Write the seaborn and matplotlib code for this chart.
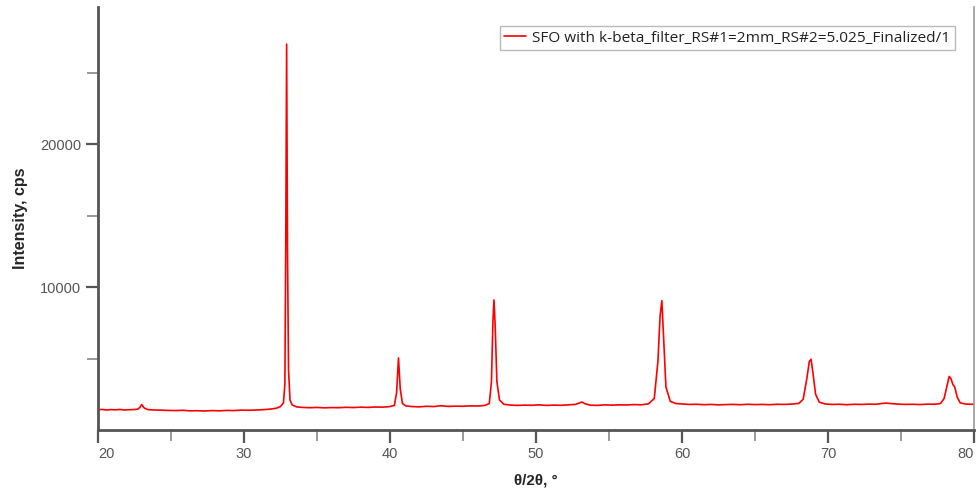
import matplotlib
matplotlib.use("Agg")
import matplotlib.pyplot as plt
import seaborn as sns
import pandas as pd
from matplotlib.ticker import MultipleLocator, FixedLocator

two_theta = [
    20.0, 20.3, 20.6, 20.9, 21.2, 21.5, 21.8, 22.1, 22.4, 22.7, 22.85, 23.0, 23.15, 23.4,
    23.8, 24.3, 24.8, 25.3, 25.8, 26.3, 26.8, 27.3, 27.8, 28.3, 28.8, 29.3, 29.8, 30.3,
    30.8, 31.3, 31.8, 32.2, 32.5, 32.7, 32.8, 32.86, 32.92, 32.98, 33.05, 33.15, 33.3,
    33.6, 34.0, 34.5, 35.0, 35.5, 36.0, 36.5, 37.0, 37.5, 38.0, 38.5, 39.0, 39.5, 40.0,
    40.3, 40.45, 40.58, 40.7, 40.85, 41.1, 41.5, 42.0, 42.5, 43.0, 43.5, 44.0, 44.5, 45.0,
    45.5, 46.0, 46.5, 46.8, 46.95, 47.05, 47.12, 47.2, 47.32, 47.5, 47.8, 48.2, 48.7,
    49.2, 49.7, 50.2, 50.7, 51.2, 51.7, 52.2, 52.7, 53.0, 53.15, 53.35, 53.7, 54.2, 54.7,
    55.2, 55.7, 56.2, 56.7, 57.2, 57.7, 58.1, 58.35, 58.5, 58.62, 58.74, 58.9, 59.2, 59.6,
    60.0, 60.5, 61.0, 61.5, 62.0, 62.5, 63.0, 63.5, 64.0, 64.5, 65.0, 65.5, 66.0, 66.5,
    67.0, 67.5, 68.0, 68.3, 68.55, 68.72, 68.84, 68.98, 69.15, 69.4, 69.8, 70.3, 70.8,
    71.3, 71.8, 72.3, 72.8, 73.3, 73.7, 74.0, 74.3, 74.8, 75.3, 75.8, 76.3, 76.8, 77.3,
    77.7, 77.95, 78.15, 78.3, 78.42, 78.55, 78.68, 78.85, 79.05, 79.4, 79.7, 80.0,
]
intensity = [
    1420, 1440, 1400, 1430, 1410, 1440, 1400, 1420, 1430, 1450, 1560, 1780, 1550, 1430,
    1400, 1390, 1370, 1360, 1380, 1340, 1350, 1330, 1360, 1340, 1370, 1360, 1390, 1380,
    1400, 1420, 1460, 1520, 1640, 1900, 3200, 13000, 27000, 12500, 4200, 2100, 1750,
    1620, 1580, 1560, 1580, 1550, 1570, 1560, 1590, 1570, 1600, 1580, 1610, 1600, 1640,
    1720, 2600, 5050, 2900, 1850, 1680, 1640, 1620, 1660, 1640, 1700, 1650, 1670, 1660,
    1690, 1680, 1720, 1850, 3400, 7600, 9100, 7400, 3400, 2100, 1800, 1750, 1720,
    1740, 1730, 1760, 1720, 1740, 1730, 1760, 1790, 1900, 1960, 1840, 1740, 1720, 1760,
    1740, 1760, 1750, 1780, 1760, 1830, 2200, 4800, 8000, 9050, 6500, 3000, 2000, 1850,
    1820, 1790, 1800, 1770, 1790, 1760, 1780, 1790, 1770, 1800, 1780, 1790, 1770, 1800,
    1790, 1810, 1860, 2150, 3600, 4800, 4950, 3900, 2500, 1950, 1820, 1790, 1800,
    1770, 1800, 1790, 1810, 1800, 1860, 1880, 1850, 1810, 1790, 1800, 1780, 1810, 1800,
    1850, 2200, 3100, 3750, 3600, 3200, 3000, 2300, 1900, 1820, 1800, 1810,
]

legend_label = "SFO with k-beta_filter_RS#1=2mm_RS#2=5.025_Finalized/1"
x_ticks = [20, 30, 40, 50, 60, 70, 80]
y_ticks = [10000, 20000]
y_minor_ticks = [5000, 15000, 25000]

df = pd.DataFrame({"two_theta": two_theta, "intensity": intensity})

sns.set_style("white")
plt.rcParams["font.family"] = ["Liberation Sans", "DejaVu Sans"]

fig = plt.figure(figsize=(9.78, 4.92), dpi=100)
ax = fig.add_axes([98 / 978, (492 - 430) / 492, (974 - 98) / 978, (430 - 7) / 492])

sns.lineplot(data=df, x="two_theta", y="intensity", color="#ff0000", linewidth=1.2,
             ax=ax, label=legend_label)

ax.set_xlim(20, 80)
ax.set_ylim(0, 29600)
ax.set_xticks(x_ticks)
ax.set_yticks(y_ticks)
ax.xaxis.set_minor_locator(MultipleLocator(5))
ax.yaxis.set_minor_locator(FixedLocator(y_minor_ticks))
ax.set_yticklabels([str(v) for v in y_ticks])
ax.set_xticklabels([str(v) for v in x_ticks])

spine_col = "#555555"
ax.spines["top"].set_visible(False)
ax.spines["left"].set_color(spine_col)
ax.spines["left"].set_linewidth(2.0)
ax.spines["bottom"].set_color(spine_col)
ax.spines["bottom"].set_linewidth(2.0)
ax.spines["right"].set_color("#999999")
ax.spines["right"].set_linewidth(1.2)

ax.tick_params(axis="both", which="major", direction="out", length=9, width=1.6,
               color=spine_col, labelcolor="#555555", labelsize=10.5, pad=3)
ax.tick_params(axis="both", which="minor", direction="out", length=8, width=1.4,
               color="#999999")
ax.tick_params(axis="y", which="both", left=True)
ax.tick_params(axis="x", which="both", bottom=True)

xl = ax.get_xticklabels()
xl[0].set_horizontalalignment("left")
xl[-1].set_horizontalalignment("right")

ax.set_xlabel("θ/2θ, °", fontsize=11, fontweight="bold", labelpad=9)
ax.set_ylabel("Intensity, cps", fontsize=11.5, fontweight="bold", labelpad=9)

leg = ax.legend(loc="upper right", bbox_to_anchor=(0.978, 0.955), frameon=True,
                fancybox=False, shadow=False, borderpad=0.3, handlelength=1.4,
                handletextpad=0.4, prop={"family": "Open Sans", "size": 11.1},
                borderaxespad=0)
leg.get_frame().set_edgecolor("#aaaaaa")
leg.get_frame().set_linewidth(1.0)
for t in leg.get_texts():
    t.set_color("#222222")

fig.savefig("out.png", dpi=100)
